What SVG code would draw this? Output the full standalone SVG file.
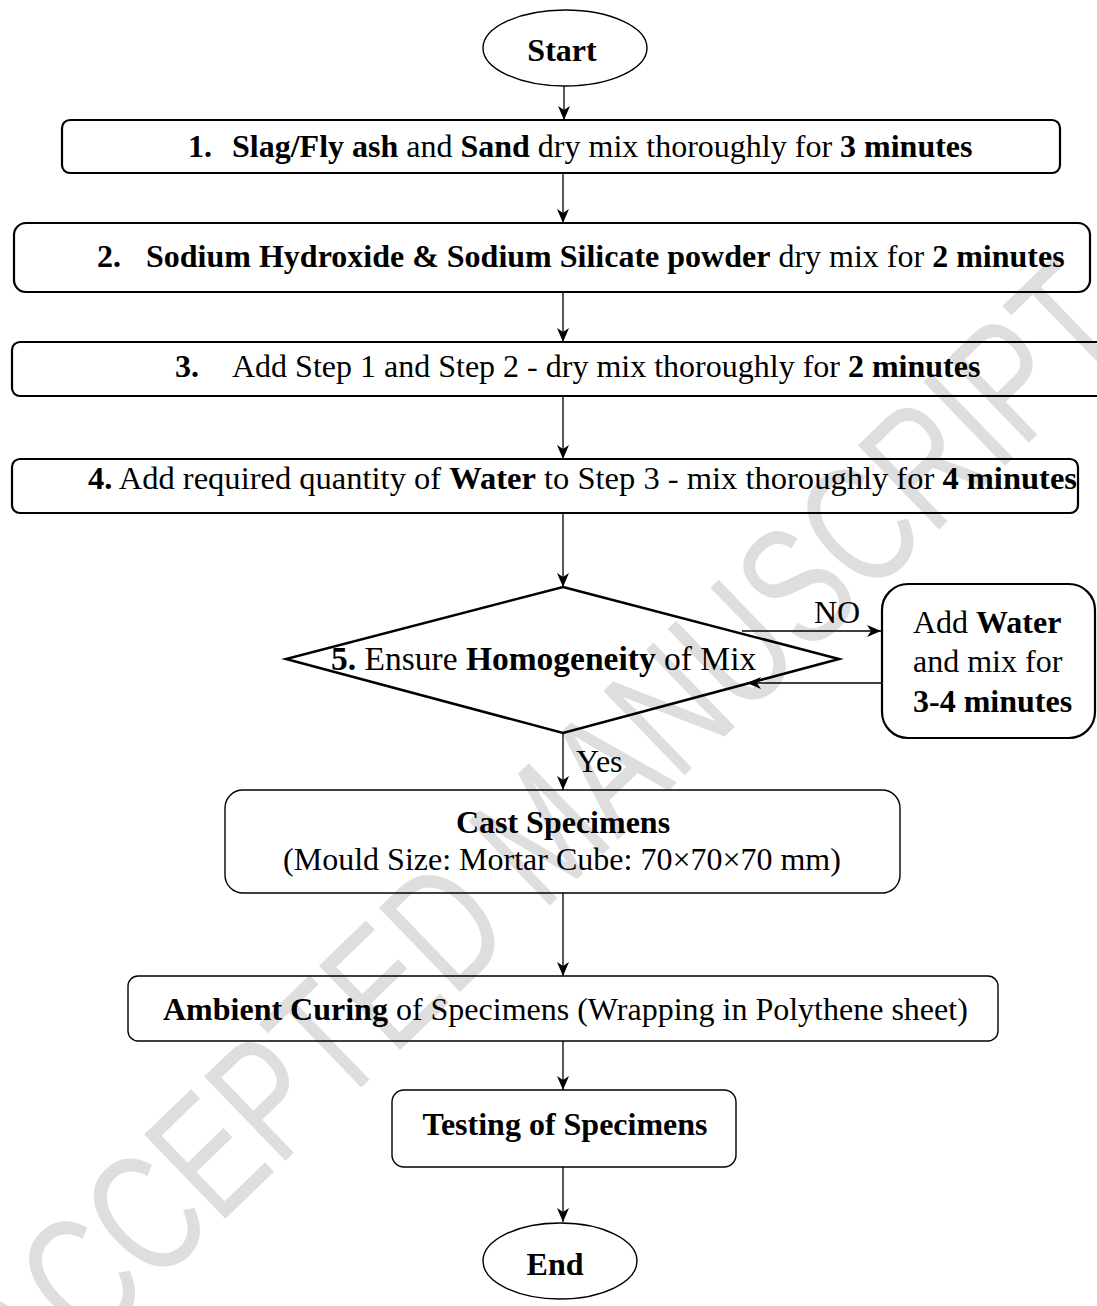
<svg xmlns="http://www.w3.org/2000/svg" width="1097" height="1306" viewBox="0 0 1097 1306">
<style>
  text { font-family: "Liberation Serif", "Times New Roman", serif; font-size: 32px; fill: #000; }
  .b { font-weight: bold; }
  .box { fill: none; stroke: #000; stroke-width: 2.2; }
  .thin { fill: none; stroke: #000; stroke-width: 1.4; }
  .conn { fill: none; stroke: #000; stroke-width: 1.3; }
  .wm { font-family: "Liberation Sans", Arial, sans-serif; font-size: 170px; fill: #dedede; }
</style>
<defs>
  <marker id="arr" viewBox="0 0 14 12" refX="14" refY="6" markerWidth="14" markerHeight="12" markerUnits="userSpaceOnUse" orient="auto">
    <path d="M0,0 L14,6 L0,12 L4,6 Z" fill="#000"/>
  </marker>
</defs>
<rect width="1097" height="1306" fill="#fff"/>
<g id="watermark" transform="translate(540,830) rotate(-44)">
  <text class="wm" x="0" y="61" text-anchor="middle" textLength="1540" lengthAdjust="spacingAndGlyphs">ACCEPTED MANUSCRIPT</text>
</g>
<g id="connectors">
  <line class="conn" x1="564" y1="86" x2="564" y2="120" marker-end="url(#arr)"/>
  <line class="conn" x1="563" y1="173" x2="563" y2="223" marker-end="url(#arr)"/>
  <line class="conn" x1="563" y1="292" x2="563" y2="342" marker-end="url(#arr)"/>
  <line class="conn" x1="563" y1="396" x2="563" y2="459" marker-end="url(#arr)"/>
  <line class="conn" x1="563" y1="513" x2="563" y2="587" marker-end="url(#arr)"/>
  <line class="conn" x1="742" y1="631" x2="881" y2="631" marker-end="url(#arr)"/>
  <line class="conn" x1="882" y1="683" x2="747" y2="683" marker-end="url(#arr)"/>
  <line class="conn" x1="563" y1="733" x2="563" y2="790" marker-end="url(#arr)"/>
  <line class="conn" x1="563" y1="893" x2="563" y2="976" marker-end="url(#arr)"/>
  <line class="conn" x1="563" y1="1041" x2="563" y2="1090" marker-end="url(#arr)"/>
  <line class="conn" x1="563" y1="1167" x2="563" y2="1222" marker-end="url(#arr)"/>
  <text x="814" y="623">NO</text>
  <text x="576" y="772">Yes</text>
</g>
<g id="start">
  <ellipse class="thin" cx="565" cy="48" rx="82" ry="38"/>
  <text class="b" x="562" y="61" text-anchor="middle">Start</text>
</g>
<g id="step1">
  <rect class="box" x="62" y="120" width="998" height="53" rx="8"/>
  <text x="188" y="157"><tspan class="b">1.</tspan><tspan class="b" x="232">Slag/Fly ash</tspan> and <tspan class="b">Sand</tspan> dry mix thoroughly for <tspan class="b">3 minutes</tspan></text>
</g>
<g id="step2">
  <rect class="box" x="14" y="223" width="1076" height="69" rx="12"/>
  <text x="97" y="267"><tspan class="b">2.</tspan><tspan class="b" x="146">Sodium Hydroxide &amp; Sodium Silicate powder</tspan> dry mix for <tspan class="b">2 minutes</tspan></text>
</g>
<g id="step3">
  <rect class="box" x="12" y="342" width="1100" height="54" rx="8"/>
  <text x="175" y="377"><tspan class="b">3.</tspan><tspan x="232">Add Step 1 and Step 2 - dry mix thoroughly for </tspan><tspan class="b">2 minutes</tspan></text>
</g>
<g id="step4">
  <rect class="box" x="12" y="459" width="1066" height="54" rx="8"/>
  <text x="88" y="489" textLength="989" lengthAdjust="spacingAndGlyphs"><tspan class="b">4.</tspan> Add required quantity of <tspan class="b">Water</tspan> to Step 3 - mix thoroughly for <tspan class="b">4 minutes</tspan></text>
</g>
<g id="step5">
  <polygon points="563,587 839,659 563,733 286,659" fill="none" stroke="#000" stroke-width="2.5" stroke-linejoin="miter"/>
  <text x="331" y="670" style="font-size:33.5px"><tspan class="b">5.</tspan> Ensure <tspan class="b">Homogeneity</tspan> of Mix</text>
</g>
<g id="addwater">
  <rect class="box" x="882" y="584" width="213" height="154" rx="26"/>
  <text x="913" y="633">Add <tspan class="b">Water</tspan></text>
  <text x="913" y="672">and mix for</text>
  <text class="b" x="913" y="712">3-4 minutes</text>
</g>
<g id="cast">
  <rect class="thin" x="225" y="790" width="675" height="103" rx="18"/>
  <text class="b" x="563" y="833" text-anchor="middle">Cast Specimens</text>
  <text x="562" y="870" text-anchor="middle">(Mould Size: Mortar Cube: 70×70×70 mm)</text>
</g>
<g id="curing">
  <rect class="thin" x="128" y="976" width="870" height="65" rx="10"/>
  <text x="163" y="1020"><tspan class="b">Ambient Curing</tspan> of Specimens (Wrapping in Polythene sheet)</text>
</g>
<g id="testing">
  <rect class="thin" x="392" y="1090" width="344" height="77" rx="12"/>
  <text class="b" x="565" y="1135" text-anchor="middle">Testing of Specimens</text>
</g>
<g id="end">
  <ellipse class="thin" cx="560" cy="1261" rx="77" ry="38"/>
  <text class="b" x="555" y="1275" text-anchor="middle">End</text>
</g>
</svg>
